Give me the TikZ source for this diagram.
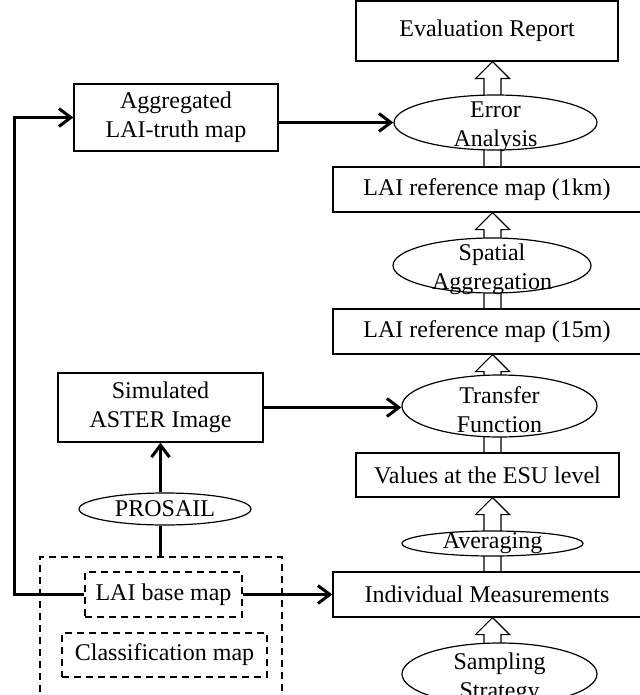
\documentclass[tikz,border=0pt]{standalone}
\usepackage{fontspec}
\setmainfont{Liberation Serif}
\usetikzlibrary{calc, shapes.geometric, arrows.meta, backgrounds}

\tikzset{
    box/.style={draw, line width=0.6pt, fill=white, inner sep=0pt, align=center},
    oval/.style={ellipse, draw, line width=0.6pt, fill=white, inner sep=0pt},
    twoline/.style={align=center, yshift=-2pt},
    dashbox/.style={draw, line width=1pt, dash pattern=on 3.5pt off 2.5pt, inner sep=0pt},
    link/.style={line width=1.5pt, -{Straight Barb[length=6pt,width=9pt]}},
    plain/.style={line width=1.5pt},
    hollow/.style={line width=0.6pt, fill=white}
}

% hollow block arrow from node #1 up to node #2 (along the spine)
\newcommand{\hollowarrow}[2]{%
    \draw[hollow] ($(spine |- #1.center)+(-8.5,0)$) -- ($(spine |- #2.south)+(-8.5,17)$)
        -- ++(-8.5,0) -- (spine |- #2.south) -- ($(spine |- #2.south)+(17,17)$)
        -- ++(-8.5,0) -- ($(spine |- #1.center)+(8.5,0)$);}

\begin{document}
\begin{tikzpicture}[x=0.5pt, y=-0.5pt, font=\fontsize{12}{14.5}\selectfont]

    \useasboundingbox (0,0) rectangle (640,695);
    \clip (0,0) rectangle (640,695);
    \coordinate (spine) at (492.5,0);

    % =================================================================
    % 1. RIGHT COLUMN: REFERENCE MAP CHAIN
    % =================================================================
    \node[box, minimum width=131pt, minimum height=30pt] (rep) at (487,31) {Evaluation Report};
    \node[oval, minimum width=101.5pt, minimum height=27.5pt,
          label={[twoline]center:Error\\Analysis}] (err) at (495.5,122.5) {};
    \node[box, minimum width=154pt, minimum height=22.5pt] (km) at (487,189.5) {LAI reference map (1km)};
    \node[oval, minimum width=99pt, minimum height=27.5pt,
          label={[twoline]center:Spatial\\Aggregation}] (spat) at (492,265.5) {};
    \node[box, minimum width=154pt, minimum height=22.5pt] (fine) at (487,331.5) {LAI reference map (15m)};
    \node[oval, minimum width=97.5pt, minimum height=31pt,
          label={[twoline]center:Transfer\\Function}] (trans) at (499.5,406) {};
    \node[box, minimum width=131.5pt, minimum height=22pt] (esu) at (487.5,475) {Values at the ESU level};
    \node[oval, minimum width=90.5pt, minimum height=12.5pt,
          label={center:Averaging}] (avg) at (492.5,543.5) {};
    \node[box, minimum width=154pt, minimum height=22.5pt] (ind) at (487,594.5) {Individual Measurements};
    \node[oval, minimum width=97.5pt, minimum height=31pt,
          label={[twoline]center:Sampling\\Strategy}] (samp) at (499.5,674) {};

    % =================================================================
    % 2. LEFT COLUMN: MAPS AND SIMULATION
    % =================================================================
    \node[box, minimum width=102pt, minimum height=33.5pt] (agg) at (176,117.5) {Aggregated\\LAI-truth map};
    \node[box, minimum width=102.5pt, minimum height=34.5pt] (aster) at (160.5,407.5) {Simulated\\ASTER Image};
    \node[oval, minimum width=86pt, minimum height=16pt, label={center:PROSAIL}] (pro) at (165,509) {};

    \node[dashbox, minimum width=121pt, minimum height=84pt] (frame) at (161,641) {};
    \node[dashbox, fill=white, minimum width=78.5pt, minimum height=22.5pt] (base) at (163.5,594.5) {LAI base map};
    \node[dashbox, fill=white, minimum width=102.5pt, minimum height=22pt] (cls) at (164.5,655) {Classification map};

    % =================================================================
    % 3. HOLLOW BLOCK ARROWS (behind the ellipses)
    % =================================================================
    \begin{scope}[on background layer]
        \hollowarrow{samp}{ind}
        \hollowarrow{ind}{esu}
        \hollowarrow{esu}{fine}
        \hollowarrow{fine}{km}
        \hollowarrow{km}{rep}
    \end{scope}

    % =================================================================
    % 4. CONNECTORS
    % =================================================================
    \draw[link] (agg.east |- err.west) -- (err.west);
    \draw[link] (aster.east) -- (aster.east -| trans.west);
    \draw[link] (aster.south |- pro.north) -- (aster.south);
    \draw[plain] (aster.south |- pro.south) -- (aster.south |- frame.north);
    \draw[link] (base.east) -- (base.east -| ind.west);
    \draw[link] (base.west) -- ++(-70,0) |- (agg.west);

\end{tikzpicture}
\end{document}
